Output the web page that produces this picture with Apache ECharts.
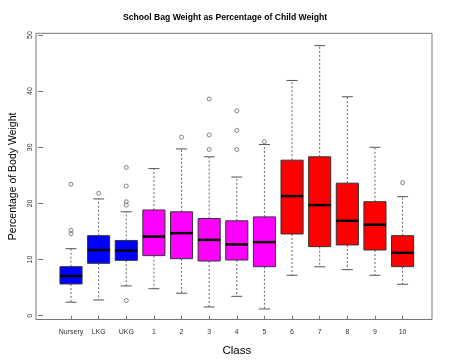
<!DOCTYPE html>
<html><head><meta charset="utf-8">
<script src="https://cdn.jsdelivr.net/npm/echarts@6/dist/echarts.min.js"></script>
<style>html,body{margin:0;padding:0;background:#fff}#c{width:450px;height:364px}</style>
</head><body><div id="c"></div>
<script>
const categories = ['Nursery','LKG','UKG','1','2','3','4','5','6','7','8','9','10'];
const lowerWhisker = [2.4, 2.8, 5.3, 4.8, 4.0, 1.55, 3.45, 1.2, 7.2, 8.7, 8.2, 7.2, 5.6];
const q1           = [5.65, 9.33, 9.86, 10.7, 10.15, 9.74, 9.92, 8.73, 14.55, 12.3, 12.6, 11.7, 8.73];
const median       = [7.07, 11.7, 11.6, 14.1, 14.7, 13.5, 12.7, 13.1, 21.3, 19.7, 16.9, 16.2, 11.2];
const q3           = [8.73, 14.25, 13.4, 18.83, 18.5, 17.3, 16.9, 17.6, 27.7, 28.3, 23.6, 20.3, 14.25];
const upperWhisker = [11.93, 20.8, 18.5, 26.2, 29.7, 28.3, 24.7, 30.5, 41.9, 48.1, 39.0, 30.0, 21.2];
const outlierClass = ['Nursery','Nursery','Nursery','LKG','UKG','UKG','UKG','UKG','UKG','2','3','3','3','4','4','4','5','10'];
const outlierValue = [23.4, 15.2, 14.6, 21.8, 26.4, 23.1, 20.3, 19.7, 2.7, 31.8, 38.6, 32.2, 29.6, 36.5, 33.0, 29.6, 31.0, 23.7];
const yTicks = [0, 10, 20, 30, 40, 50];

const FONT = 'Liberation Sans, Arial, sans-serif';
function boxColor(i){ return i < 3 ? '#0000FF' : (i < 8 ? '#FF00FF' : '#FF0000'); }

const chart = echarts.init(document.getElementById('c'), null, {renderer:'canvas'});
const boxData = categories.map((c, i) => [i, lowerWhisker[i], q1[i], median[i], q3[i], upperWhisker[i]]);
const outData = outlierClass.map((c, k) => [c, outlierValue[k]]);

chart.setOption({
  animation: false,
  backgroundColor: '#fff',
  title: {
    text: 'School Bag Weight as Percentage of Child Weight',
    left: 'center', top: 13, padding: [0, 0, 0, 18],
    textStyle: {fontFamily: FONT, fontSize: 8.6, fontWeight: 'bold', color: '#000'}
  },
  grid: [
    {left: 50.2, right: 33.6, top: 33.3, bottom: 44.5},
    {left: 36, right: 18, top: 33.3, bottom: 44.5, show: true, borderColor: '#777', borderWidth: 1, backgroundColor: 'transparent'}
  ],
  xAxis: [
    {
      type: 'category', gridIndex: 0, data: categories,
      axisLine: {show: false},
      axisTick: {show: true, alignWithLabel: true, length: 4, lineStyle: {color: '#777'}},
      axisLabel: {fontFamily: FONT, fontSize: 7, color: '#333', margin: 9, interval: 0},
      name: 'Class', nameLocation: 'middle', nameGap: 25,
      nameTextStyle: {fontFamily: FONT, fontSize: 11.5, color: '#000'}
    },
    {type: 'value', gridIndex: 1, show: false, min: 0, max: 1}
  ],
  yAxis: [
    {
      type: 'value', gridIndex: 0, min: -0.68, max: 50.3, offset: 14.2,
      splitLine: {show: false},
      axisLine: {show: false},
      axisTick: {show: true, length: 5, customValues: yTicks, lineStyle: {color: '#777'}},
      axisLabel: {customValues: yTicks, rotate: 90, fontFamily: FONT, fontSize: 7, color: '#333', margin: 9},
      name: 'Percentage of Body Weight', nameLocation: 'middle', nameGap: 24, nameRotate: 90,
      nameTextStyle: {fontFamily: FONT, fontSize: 10.5, color: '#000'}
    },
    {type: 'value', gridIndex: 1, show: false, min: 0, max: 1}
  ],
  series: [
    {
      type: 'custom', xAxisIndex: 0, yAxisIndex: 0,
      data: boxData,
      encode: {x: 0, y: [1, 2, 3, 4, 5]},
      renderItem: function(params, api){
        const i = api.value(0);
        const band = api.size([1, 0])[0];
        const xc = api.coord([i, 0])[0];
        const yLo = api.coord([i, api.value(1)])[1];
        const yQ1 = api.coord([i, api.value(2)])[1];
        const yMed = api.coord([i, api.value(3)])[1];
        const yQ3 = api.coord([i, api.value(4)])[1];
        const yHi = api.coord([i, api.value(5)])[1];
        const half = band * 0.4;
        const cap = band * 0.2;
        const wStyle = {stroke: '#666', lineWidth: 1, lineDash: [2, 2]};
        const cStyle = {stroke: '#555', lineWidth: 1};
        return {
          type: 'group',
          children: [
            {type: 'line', shape: {x1: xc, y1: yQ3, x2: xc, y2: yHi}, style: wStyle},
            {type: 'line', shape: {x1: xc, y1: yQ1, x2: xc, y2: yLo}, style: wStyle},
            {type: 'line', shape: {x1: xc - cap, y1: yHi, x2: xc + cap, y2: yHi}, style: cStyle},
            {type: 'line', shape: {x1: xc - cap, y1: yLo, x2: xc + cap, y2: yLo}, style: cStyle},
            {type: 'rect', shape: {x: xc - half, y: yQ3, width: half * 2, height: yQ1 - yQ3},
             style: {fill: boxColor(i), stroke: '#333', lineWidth: 1}},
            {type: 'line', shape: {x1: xc - half, y1: yMed, x2: xc + half, y2: yMed},
             style: {stroke: '#000', lineWidth: 2.5}}
          ]
        };
      }
    },
    {
      type: 'scatter', xAxisIndex: 0, yAxisIndex: 0,
      data: outData,
      symbol: 'circle', symbolSize: 4,
      itemStyle: {color: 'rgba(0,0,0,0)', borderColor: '#666', borderWidth: 1}
    }
  ]
});
</script></body></html>
